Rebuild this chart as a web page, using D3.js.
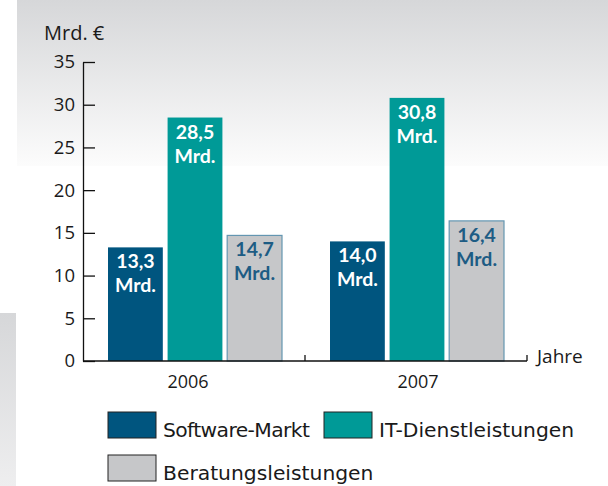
<!DOCTYPE html>
<html>
<head>
<meta charset="utf-8">
<script src="https://cdn.jsdelivr.net/npm/d3@7"></script>
<style>
  body { margin: 0; background: #fff; }
  svg text { font-family: "Open Sans", sans-serif; fill: #1a1a1a; }
</style>
</head>
<body>
<svg id="mainSvg" width="608" height="486"></svg>
<script>
const years = ["2006", "2007"];
const seriesNames = ["Software-Markt", "IT-Dienstleistungen", "Beratungsleistungen"];
const software = [13.3, 14.0];
const itServices = [28.5, 30.8];
const consulting = [14.7, 16.4];
const yTicks = [0, 5, 10, 15, 20, 25, 30, 35];
const valueLabels = [["13,3", "14,0"], ["28,5", "30,8"], ["14,7", "16,4"]];

const fills = ["#00557f", "#009a97", "#c6c7c9"];
const labelColors = ["#ffffff", "#ffffff", "#1d5c84"];

let canvas = d3.select("#mainSvg");

// background shading
let defs = canvas.append("defs");
let g1 = defs.append("linearGradient").attr("id", "topFade").attr("x1", 0).attr("y1", 0).attr("x2", 0).attr("y2", 1);
g1.append("stop").attr("offset", "0%").attr("stop-color", "#d6d7d9");
g1.append("stop").attr("offset", "100%").attr("stop-color", "#fcfcfc");
let g2 = defs.append("linearGradient").attr("id", "sideFade").attr("x1", 0).attr("y1", 0).attr("x2", 0).attr("y2", 1);
g2.append("stop").attr("offset", "0%").attr("stop-color", "#d6d7d9");
g2.append("stop").attr("offset", "100%").attr("stop-color", "#eeeeef");

canvas.append("rect").attr("x", 17).attr("y", 0).attr("width", 591).attr("height", 166).attr("fill", "url(#topFade)");
canvas.append("rect").attr("x", 0).attr("y", 313).attr("width", 16).attr("height", 173).attr("fill", "url(#sideFade)");

let y = d3.scaleLinear().domain([0, 35]).range([361, 62]);
let x0 = d3.scaleBand().domain(years).range([83, 527]);
let x1 = d3.scaleBand().domain(seriesNames).range([25, 199]).paddingInner(0.08);

let table = seriesNames.map((s, i) => years.map((yr, j) => ({
    series: s, idx: i, year: yr,
    value: [software, itServices, consulting][i][j],
    label: valueLabels[i][j]
}))).flat();

// bars
canvas.selectAll("rect.bar")
    .data(table)
    .enter()
        .append("rect")
        .attr("class", "bar")
        .attr("x", d => x0(d.year) + x1(d.series))
        .attr("y", d => y(d.value))
        .attr("width", x1.bandwidth())
        .attr("height", d => y(0) - y(d.value))
        .attr("fill", d => fills[d.idx])
        .attr("stroke", d => d.idx == 2 ? "#6496b1" : "none")
        .attr("stroke-width", 1.2);

// value labels inside bars (two lines: value, then "Mrd.")
let labX = d => x0(d.year) + x1(d.series) + x1.bandwidth() / 2;
canvas.selectAll("text.val")
    .data(table)
    .enter()
        .append("text")
        .attr("class", "val")
        .attr("text-anchor", "middle")
        .attr("font-size", 19.5)
        .attr("font-weight", 700)
        .style("font-family", "Lato")
        .style("fill", d => labelColors[d.idx])
        .attr("x", labX)
        .attr("y", d => y(d.value) + 21)
        .text(d => d.label);
canvas.selectAll("text.unit")
    .data(table)
    .enter()
        .append("text")
        .attr("class", "unit")
        .attr("text-anchor", "middle")
        .attr("font-size", 19.5)
        .attr("font-weight", 700)
        .style("font-family", "Lato")
        .style("fill", d => labelColors[d.idx])
        .attr("x", labX)
        .attr("y", d => y(d.value) + 45)
        .text("Mrd.");

// y axis
let yAxis = canvas.append("g")
    .attr("transform", "translate(83,0)")
    .call(d3.axisLeft(y).tickValues(yTicks).tickSizeInner(-12).tickSizeOuter(0).tickPadding(8));
yAxis.selectAll("path, line").attr("stroke", "#111").attr("stroke-width", 1.3);
yAxis.selectAll("text").attr("font-size", 18.5).attr("font-family", "Open Sans").style("fill", "#1a1a1a");

// x axis
canvas.append("line")
    .attr("x1", x0.range()[0]).attr("x2", x0.range()[1])
    .attr("y1", y(0)).attr("y2", y(0))
    .attr("stroke", "#111").attr("stroke-width", 1.3);
canvas.selectAll("line.sep")
    .data(years)
    .enter()
        .append("line")
        .attr("class", "sep")
        .attr("x1", d => x0(d) + x0.bandwidth())
        .attr("x2", d => x0(d) + x0.bandwidth())
        .attr("y1", y(0)).attr("y2", y(0) - 6)
        .attr("stroke", "#111").attr("stroke-width", 1.3);
canvas.selectAll("text.year")
    .data(years)
    .enter()
        .append("text")
        .attr("class", "year")
        .attr("text-anchor", "middle")
        .attr("font-size", 18)
        .attr("x", (d, i) => x0(d) + x0.bandwidth() / 2 + (i == 0 ? -6 : 2))
        .attr("y", 388)
        .text(d => d);

canvas.append("text").attr("x", 44).attr("y", 40).attr("font-size", 20).text("Mrd. €");
canvas.append("text").attr("x", 537).attr("y", 363).attr("font-size", 19).text("Jahre");

// legend
let legendPos = [{x: 108, y: 412}, {x: 324, y: 412}, {x: 108, y: 455}];
let legendSpacing = [-0.6, 0, 0];
let legend = canvas.selectAll("g.leg")
    .data(seriesNames)
    .enter()
        .append("g")
        .attr("class", "leg")
        .attr("transform", (d, i) => "translate(" + legendPos[i].x + "," + legendPos[i].y + ")");
legend.append("rect")
    .attr("width", 48).attr("height", 26)
    .attr("fill", (d, i) => fills[i])
    .attr("stroke", "#222").attr("stroke-width", 1);
legend.append("text")
    .attr("x", 55)
    .attr("y", 25)
    .attr("font-size", 20.3)
    .attr("letter-spacing", (d, i) => legendSpacing[i])
    .style("font-family", "DejaVu Sans")
    .text(d => d);
</script>
</body>
</html>
